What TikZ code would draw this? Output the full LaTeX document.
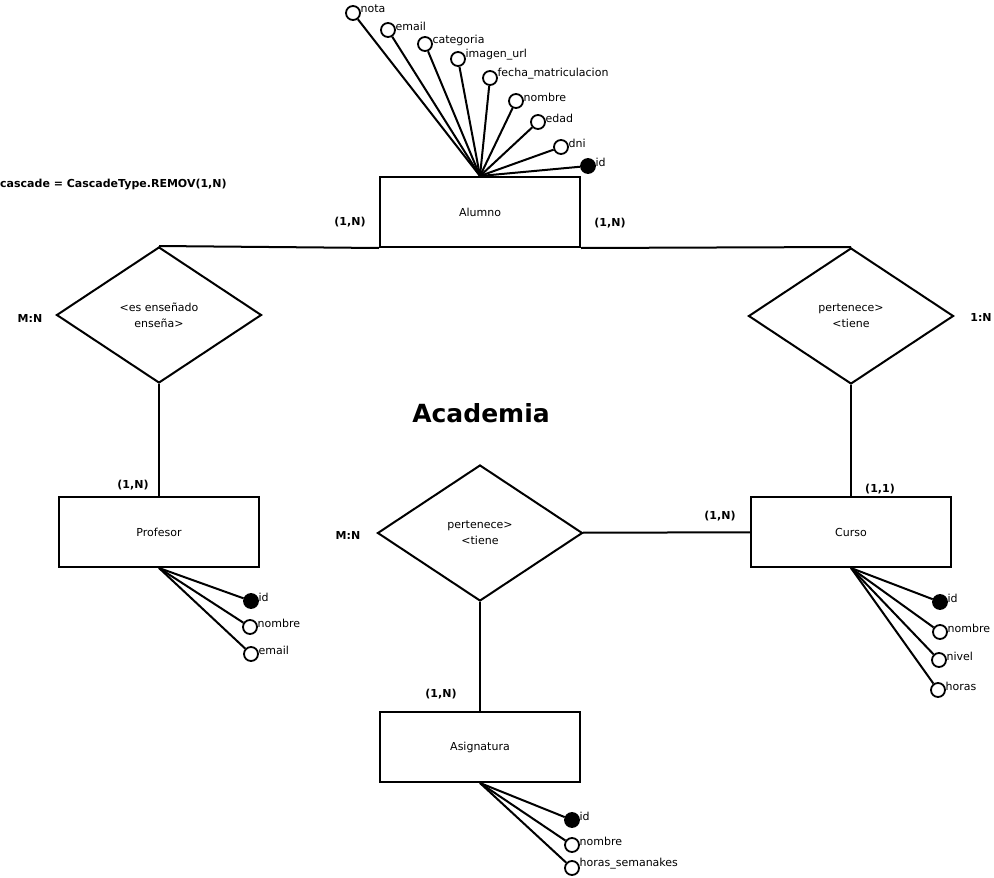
\documentclass[tikz,border=0pt]{standalone}
\usepackage{fontspec}
\setmainfont{DejaVu Sans}
\usetikzlibrary{shapes.geometric}

\begin{document}
\begin{tikzpicture}[x=1pt,y=-1pt,font=\fontsize{11}{16}\selectfont]
\tikzstyle{block} = [rectangle, draw, line width=2pt, minimum width=200,
minimum height=70, inner sep=0pt]
\tikzstyle{decision} = [diamond, draw, line width=2pt, minimum width=205,
minimum height=136, inner sep=0pt, align=center]
\tikzstyle{attr} = [circle, draw, line width=1.8pt, fill=white, minimum size=14, inner sep=0pt]
\tikzstyle{key} = [attr, fill=black]
\tikzstyle{lbl} = [inner sep=0.5pt, xshift=-1pt, yshift=4pt]
\tikzstyle{card} = [font=\fontsize{11}{13}\selectfont\bfseries]
\tikzstyle{line} = [draw, line width=2pt]
\useasboundingbox (0,0) rectangle (994,878);

% entities
\node [block] (alumno) at (480,212) {Alumno};
\node [block] (profesor) at (159,532) {Profesor};
\node [block] (curso) at (851,532) {Curso};
\node [block] (asignatura) at (480,747) {Asignatura};
% relations
\node [decision] (ensena) at (159,315) {<es enseñado\\enseña>};
\node [decision] (perteneceCurso) at (851,316) {pertenece>\\<tiene};
\node [decision] (perteneceAsig) at (480,533) {pertenece>\\<tiene};

% attributes alumno
\node [attr, label={[lbl]right:nota}] (alNota) at (353,13) {};
\node [attr, label={[lbl]right:email}] (alEmail) at (388,30) {};
\node [attr, label={[lbl]right:categoria}] (alCategoria) at (425,44) {};
\node [attr, label={[lbl]right:imagen\_url}] (alImagen) at (458,59) {};
\node [attr, label={[lbl]right:fecha\_matriculacion}] (alFecha) at (490,78) {};
\node [attr, label={[lbl]right:nombre}] (alNombre) at (516,101) {};
\node [attr, label={[lbl]right:edad}] (alEdad) at (538,122) {};
\node [attr, label={[lbl]right:dni}] (alDni) at (561,147) {};
\node [key, label={[lbl]right:id}] (alId) at (588,166) {};
% attributes profesor
\node [key, label={[lbl]right:id}] (prId) at (251,601) {};
\node [attr, label={[lbl]right:nombre}] (prNombre) at (250,627) {};
\node [attr, label={[lbl]right:email}] (prEmail) at (251,654) {};
% attributes curso
\node [key, label={[lbl]right:id}] (cuId) at (940,602) {};
\node [attr, label={[lbl]right:nombre}] (cuNombre) at (940,632) {};
\node [attr, label={[lbl]right:nivel}] (cuNivel) at (939,660) {};
\node [attr, label={[lbl]right:horas}] (cuHoras) at (938,690) {};
% attributes asignatura
\node [key, label={[lbl]right:id}] (asId) at (572,820) {};
\node [attr, label={[lbl]right:nombre}] (asNombre) at (572,845) {};
\node [attr, label={[lbl]right:horas\_semanakes}] (asHoras) at (572,868) {};

% cardinalities
\node [card] (cAlumnoL) at (350,222) {(1,N)};
\node [card] (cAlumnoR) at (610,223) {(1,N)};
\node [card] (cEnsena) at (30,318) {M:N};
\node [card] (cPerteneceCurso) at (981,317) {1:N};
\node [card] (cProfesor) at (133,485) {(1,N)};
\node [card] (cCurso) at (880,489) {(1,1)};
\node [card] (cPerteneceAsig) at (348,535) {M:N};
\node [card] (cCursoL) at (720,516) {(1,N)};
\node [card] (cAsignatura) at (441,694) {(1,N)};
\node [card, anchor=west, inner sep=0pt] (cascade) at (0,185) {cascade = CascadeType.REMOV(1,N)};
\node [font=\fontsize{25}{30}\selectfont\bfseries] (titulo) at (481,413) {Academia};

\tikzstyle{every path}=[line]
\path (alumno.south west) -- (ensena.north);
\path (alumno.south east) -- (perteneceCurso.north);
\path (ensena) -- (profesor);
\path (perteneceCurso) -- (curso);
\path (perteneceAsig) -- (curso);
\path (perteneceAsig) -- (asignatura);
\foreach \a in {alNota,alEmail,alCategoria,alImagen,alFecha,alNombre,alEdad,alDni,alId}
  \path (alumno.north) -- (\a);
\foreach \a in {prId,prNombre,prEmail}
  \path (profesor.south) -- (\a);
\foreach \a in {cuId,cuNombre,cuNivel,cuHoras}
  \path (curso.south) -- (\a);
\foreach \a in {asId,asNombre,asHoras}
  \path (asignatura.south) -- (\a);

\end{tikzpicture}
\end{document}
